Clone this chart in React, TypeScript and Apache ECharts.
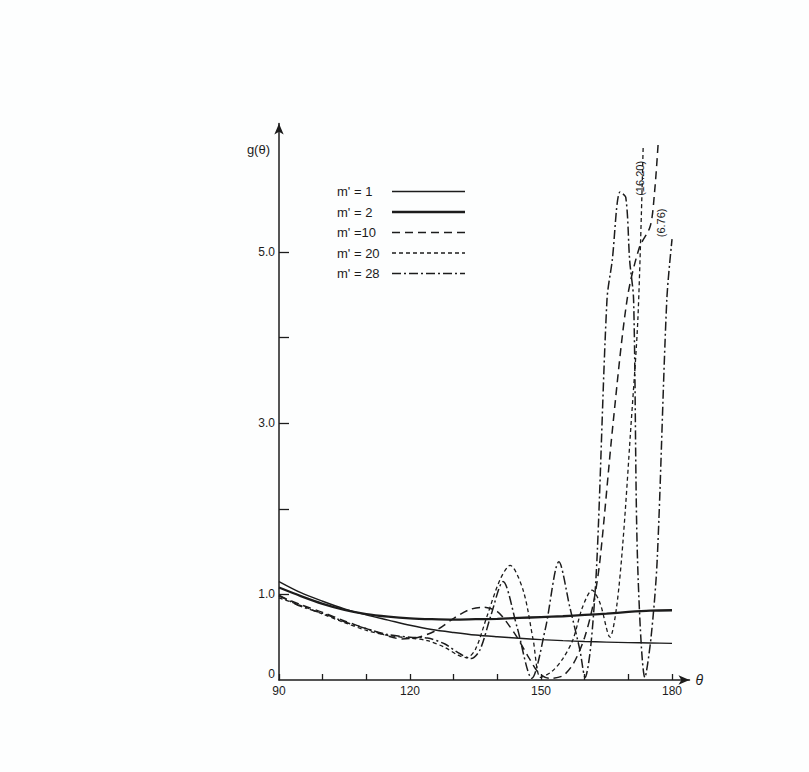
import React, { useEffect, useRef } from "react";
import * as echarts from "echarts";

// ---- data ----
const seriesNames = ["m' = 1", "m' = 2", "m' =10", "m' = 20", "m' = 28"];

const theta1 = [90, 95, 100, 105, 110, 115, 120, 125, 130, 135, 140, 145, 150, 155, 160, 165, 170, 175, 180];
const g1 = [1.15, 1.02, 0.92, 0.83, 0.76, 0.70, 0.64, 0.59, 0.555, 0.525, 0.505, 0.488, 0.472, 0.46, 0.45, 0.443, 0.437, 0.432, 0.428];

const theta2 = [90, 95, 100, 105, 110, 115, 120, 125, 130, 135, 140, 145, 150, 155, 160, 165, 170, 175, 180];
const g2 = [1.08, 0.98, 0.89, 0.82, 0.77, 0.74, 0.72, 0.71, 0.705, 0.71, 0.715, 0.725, 0.735, 0.745, 0.76, 0.775, 0.795, 0.81, 0.815];

const theta10 = [90, 95, 100, 105, 110, 114, 118, 122, 126, 130, 133.5, 136.7, 140, 142.5, 144.5, 147, 149.5, 152, 155, 157.5, 160, 162, 163.5, 166.5, 169.7, 172.5, 175, 176, 176.8];
const g10 = [0.98, 0.88, 0.79, 0.69, 0.60, 0.53, 0.48, 0.50, 0.58, 0.72, 0.82, 0.85, 0.80, 0.65, 0.50, 0.28, 0.08, 0.02, 0.05, 0.20, 0.50, 0.90, 1.40, 3.00, 4.44, 5.05, 5.30, 5.70, 6.25];

const theta20 = [90, 95, 100, 105, 110, 115, 120, 124, 128, 131, 133, 135, 137.6, 140.6, 142.9, 145.9, 148.2, 149.9, 152.5, 155, 157.3, 159.5, 161.7, 163.5, 165.8, 167.3, 168.8, 170.5, 172.2, 173.4];
const g20 = [0.96, 0.87, 0.77, 0.67, 0.58, 0.52, 0.49, 0.46, 0.38, 0.29, 0.26, 0.36, 0.74, 1.17, 1.34, 1.05, 0.47, 0.03, 0.10, 0.25, 0.47, 0.85, 1.05, 0.90, 0.50, 0.85, 1.64, 2.90, 4.24, 6.25];

const theta28 = [90, 95, 100, 105, 110, 115, 120, 124, 128, 131, 134, 136, 138.5, 141.3, 144.5, 147.9, 151, 154.1, 156.6, 158.9, 160.1, 161.4, 162.8, 165.1, 166.3, 168.1, 169.4, 170.3, 171.2, 172.1, 173.8, 175.2, 176.6, 178.8, 180];
const g28 = [0.99, 0.86, 0.78, 0.68, 0.60, 0.53, 0.50, 0.49, 0.42, 0.32, 0.25, 0.35, 0.75, 1.15, 0.62, 0.02, 0.60, 1.38, 0.85, 0.35, 0.03, 0.40, 1.40, 4.44, 4.90, 5.70, 5.64, 4.90, 4.44, 1.40, 0.03, 0.50, 1.40, 4.44, 5.15];

const xTicks = [90, 100, 110, 120, 130, 140, 150, 160, 170, 180];
const xLabels = [90, 120, 150, 180];
const yTicks = [1, 2, 3, 4, 5];
const yLabels = [0, 1, 3, 5];

const annotations = [
  { text: "(16.20)", at: [172.7, 5.86] },
  { text: "(6.76)", at: [177.5, 5.34] },
];

const zip = (xs: number[], ys: number[]) => xs.map((x, i) => [x, ys[i]]);

const FONT = "Liberation Sans";
const INK = "#1c1c1c";

export default function App() {
  const ref = useRef<HTMLDivElement>(null);

  useEffect(() => {
    document.body.style.margin = "0";
    if (!ref.current) return;
    const chart = echarts.init(ref.current, undefined, { renderer: "svg" });

    const lineStyles: any[] = [
      { width: 1.4, type: "solid" },
      { width: 2.3, type: "solid" },
      { width: 1.5, type: [8, 5] },
      { width: 1.3, type: [4, 3] },
      { width: 1.5, type: [9, 3, 2, 3] },
    ];
    const datas = [zip(theta1, g1), zip(theta2, g2), zip(theta10, g10), zip(theta20, g20), zip(theta28, g28)];

    const option: any = {
      animation: false,
      backgroundColor: "#fdfefe",
      grid: { left: 279, top: 123.6, width: 410.5, height: 556.4 },
      legend: {
        data: seriesNames.map((name, i) => ({
          name,
          lineStyle: { color: INK, width: lineStyles[i].width, type: lineStyles[i].type },
        })),
        orient: "vertical",
        left: 332,
        top: 180,
        align: "right",
        itemWidth: 73,
        itemHeight: 14,
        itemGap: 7.5,
        selectedMode: false,
        itemStyle: { opacity: 0 },
        formatter: (name: string) => `{a|${name}}`,
        textStyle: {
          fontSize: 13,
          color: INK,
          fontFamily: FONT,
          rich: { a: { width: 50, align: "left", fontSize: 13, color: INK, fontFamily: FONT } },
        },
      },
      xAxis: {
        type: "value",
        min: 90,
        max: 184,
        name: "θ",
        nameLocation: "end",
        nameGap: 6,
        nameTextStyle: { fontSize: 14, fontStyle: "italic", color: INK, fontFamily: FONT, verticalAlign: "middle" },
        axisLine: { show: true, symbol: ["none", "arrow"], symbolSize: [7, 11], lineStyle: { color: INK, width: 1.5 } },
        axisTick: { show: true, inside: true, length: 6, customValues: xTicks, lineStyle: { color: INK, width: 1.3 } },
        axisLabel: { customValues: xLabels, margin: 5, fontSize: 12, color: INK, fontFamily: FONT },
        splitLine: { show: false },
      },
      yAxis: {
        type: "value",
        min: 0,
        max: 6.5,
        name: "g(θ)",
        nameLocation: "end",
        nameGap: -26,
        nameTextStyle: { fontSize: 13, color: INK, fontFamily: FONT, align: "right", verticalAlign: "middle", padding: [0, 9, 0, 0] },
        axisLine: { show: true, symbol: ["none", "arrow"], symbolSize: [7, 11], lineStyle: { color: INK, width: 1.5 } },
        axisTick: { show: true, inside: true, length: 10, customValues: yTicks, lineStyle: { color: INK, width: 1.3 } },
        axisLabel: {
          customValues: yLabels,
          margin: 4,
          fontSize: 12,
          color: INK,
          fontFamily: FONT,
          formatter: (v: number) => (v === 0 ? "{z|0}" : v.toFixed(1)),
          rich: { z: { fontSize: 12, color: INK, fontFamily: FONT, padding: [0, 0, 12, 0] } },
        },
        splitLine: { show: false },
      },
      series: seriesNames.map((name, i) => ({
        name,
        type: "line",
        data: datas[i],
        symbol: "none",
        smooth: 0.3,
        clip: true,
        color: INK,
        lineStyle: { color: INK, ...lineStyles[i] },
      })),
    };

    chart.setOption(option);

    const graphic = annotations.map((a) => {
      const p = chart.convertToPixel({ gridIndex: 0 }, a.at) as number[];
      return {
        type: "text",
        x: p[0],
        y: p[1],
        rotation: Math.PI / 2,
        style: {
          text: a.text,
          fontSize: 11,
          fontFamily: FONT,
          fill: INK,
          textAlign: "center",
          textVerticalAlign: "middle",
        },
      };
    });
    chart.setOption({ graphic });

    return () => chart.dispose();
  }, []);

  return <div ref={ref} style={{ width: 809, height: 772 }} />;
}
